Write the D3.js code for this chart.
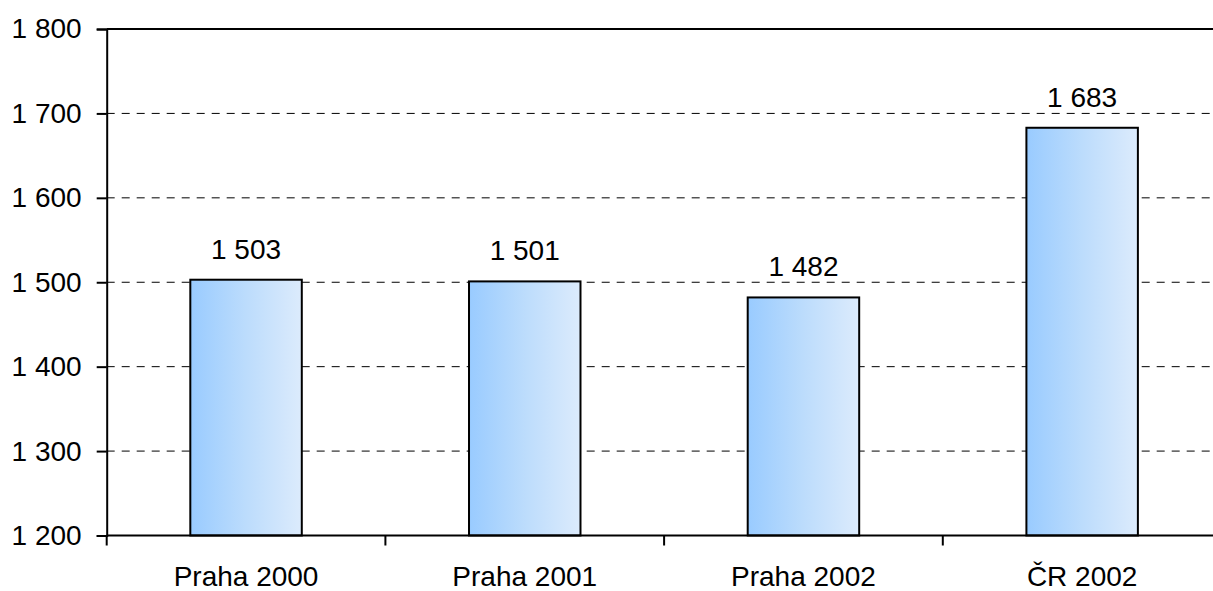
<!DOCTYPE html>
<html>
<head>
<meta charset="utf-8">
<script src="https://cdn.jsdelivr.net/npm/d3@7"></script>
<style>
    body { margin: 0; background: #fff; overflow: hidden; }
    svg { display: block; font-family: "Liberation Sans", Arial, sans-serif; }
</style>
</head>
<body>
<div id="chart"></div>
<script>

// categories and values
let categories = ["Praha 2000", "Praha 2001", "Praha 2002", "ČR 2002"];
let values = [1503, 1501, 1482, 1683];
let yTicks = [1200, 1300, 1400, 1500, 1600, 1700, 1800];

let margin = {top: 29, right: -8.5, bottom: 55.5, left: 106.7};

let w = 1213 - margin.left - margin.right;
let h = 591 - margin.top - margin.bottom;
let fontSize = 28;

let locale = d3.formatLocale({decimal: ",", thousands: " ", grouping: [3], currency: ["", ""]});
let fmt = locale.format(",d");

let svg = d3.select("#chart")
    .append("svg")
    .attr("width", 1213)
    .attr("height", 591);

let defs = svg.append("defs");
let grad = defs.append("linearGradient")
    .attr("id", "barGrad")
    .attr("x1", "0%").attr("x2", "100%")
    .attr("y1", "0%").attr("y2", "0%");
grad.append("stop").attr("offset", "0%").attr("stop-color", "#99cbff");
grad.append("stop").attr("offset", "50%").attr("stop-color", "#bcdcfc");
grad.append("stop").attr("offset", "100%").attr("stop-color", "#dcebfc");

let g = svg.append("g")
    .attr("transform", "translate(" + margin.left + "," + margin.top + ")");

let xScale = d3.scaleBand()
    .domain(categories)
    .range([0, w])
    .paddingInner(0.6)
    .paddingOuter(0.3);

let yScale = d3.scaleLinear()
    .domain([1200, 1800])
    .range([h, 0]);

// gridlines
g.selectAll("line.grid")
    .data(yTicks.filter(d => d > 1200 && d < 1800))
    .enter()
    .append("line")
    .attr("class", "grid")
    .attr("x1", 0)
    .attr("x2", w)
    .attr("y1", d => yScale(d))
    .attr("y2", d => yScale(d))
    .attr("stroke", "#000")
    .attr("stroke-width", 1)
    .attr("stroke-dasharray", "8,7");

// top border of plot area
g.append("line")
    .attr("x1", 0).attr("x2", w)
    .attr("y1", yScale(1800)).attr("y2", yScale(1800))
    .attr("stroke", "#000")
    .attr("stroke-width", 2);

// bars
g.selectAll("rect.bar")
    .data(values)
    .enter()
    .append("rect")
    .attr("class", "bar")
    .attr("x", (d, i) => xScale(categories[i]))
    .attr("y", d => yScale(d))
    .attr("width", xScale.bandwidth())
    .attr("height", d => h - yScale(d))
    .attr("fill", "url(#barGrad)")
    .attr("stroke", "#000")
    .attr("stroke-width", 2);

// value labels
g.selectAll("text.val")
    .data(values)
    .enter()
    .append("text")
    .attr("class", "val")
    .attr("x", (d, i) => xScale(categories[i]) + xScale.bandwidth() / 2)
    .attr("y", d => yScale(d) - 21)
    .attr("text-anchor", "middle")
    .attr("font-size", fontSize)
    .attr("fill", "#000")
    .text(d => fmt(d));

// y axis
let yaxis = g.append("g")
    .attr("id", "y-axis")
    .call(d3.axisLeft(yScale).tickValues(yTicks).tickSize(10).tickPadding(15).tickFormat(fmt));

yaxis.attr("font-size", fontSize).attr("font-family", null);
yaxis.select(".domain").attr("stroke", "#000").attr("stroke-width", 2);
yaxis.selectAll(".tick line").attr("stroke", "#000").attr("stroke-width", 2);
yaxis.selectAll(".tick text")
    .attr("font-size", fontSize)
    .attr("fill", "#000");

// x axis: ticks sit between categories
let xaxis = g.append("g")
    .attr("id", "x-axis")
    .attr("transform", "translate(0," + h + ")");

xaxis.append("line")
    .attr("x1", 0).attr("x2", w)
    .attr("y1", 0).attr("y2", 0)
    .attr("stroke", "#000")
    .attr("stroke-width", 2);

let step = xScale.step();
let bandStart = xScale(categories[0]) - xScale.paddingOuter() * step;

xaxis.selectAll("line.tick")
    .data(d3.range(categories.length + 1))
    .enter()
    .append("line")
    .attr("class", "tick")
    .attr("x1", i => bandStart + i * step)
    .attr("x2", i => bandStart + i * step)
    .attr("y1", 0)
    .attr("y2", 10)
    .attr("stroke", "#000")
    .attr("stroke-width", 2);

xaxis.selectAll("text.cat")
    .data(categories)
    .enter()
    .append("text")
    .attr("class", "cat")
    .attr("x", d => xScale(d) + xScale.bandwidth() / 2)
    .attr("y", 50.5)
    .attr("text-anchor", "middle")
    .attr("font-size", fontSize)
    .attr("fill", "#000")
    .text(d => d);

</script>
</body>
</html>
